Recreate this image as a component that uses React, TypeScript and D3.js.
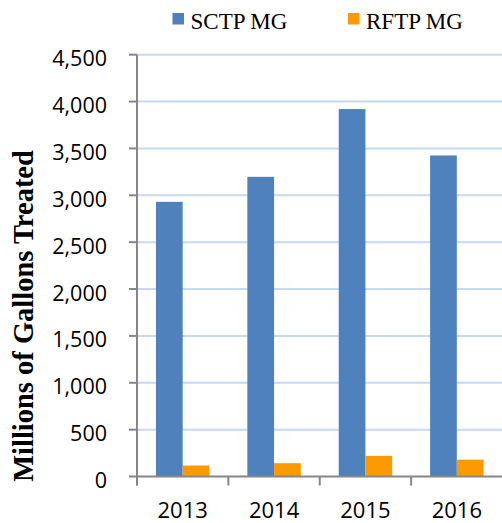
import React from "react";
import * as d3 from "d3";

const years = ["2013", "2014", "2015", "2016"];
const series = ["SCTP MG", "RFTP MG"];
const sctp = [2930, 3197, 3920, 3425];
const rftp = [117, 142, 220, 180];
const yTicks = [0, 500, 1000, 1500, 2000, 2500, 3000, 3500, 4000, 4500];
const colors = ["#4f81bd", "#ff9900"];

const W = 502;
const H = 523;
const left = 137;
const right = 502.5;
const top = 54.7;
const bottom = 476.5;

export default function App() {
  const x = d3.scaleBand<string>().domain(years).range([left, right]).padding(0);
  const inner = d3
    .scaleBand<string>()
    .domain(series)
    .range([0, x.bandwidth()])
    .paddingInner(0)
    .paddingOuter(0.71);
  const y = d3.scaleLinear().domain([0, 4500]).range([bottom, top]);
  const fmt = d3.format(",");
  const values = [sctp, rftp];

  return (
    <svg
      width={W}
      height={H}
      style={{ position: "absolute", left: 0, top: 0 }}
    >
      <rect x={0} y={0} width={W} height={H} fill="#fff" />
      {yTicks
        .filter((t) => t > 0)
        .map((t) => (
          <line
            key={"g" + t}
            x1={left}
            x2={right}
            y1={y(t)}
            y2={y(t)}
            stroke="#c6d9f1"
            strokeWidth={2}
          />
        ))}
      {series.map((s, si) =>
        years.map((yr, i) => (
          <rect
            key={s + yr}
            x={(x(yr) as number) + (inner(s) as number)}
            y={y(values[si][i])}
            width={inner.bandwidth()}
            height={bottom - y(values[si][i])}
            fill={colors[si]}
          />
        ))
      )}
      <line x1={left} x2={left} y1={top} y2={bottom + 9} stroke="#868686" strokeWidth={2} />
      {yTicks.map((t) => (
        <g key={"t" + t}>
          <line x1={left - 8} x2={left} y1={y(t)} y2={y(t)} stroke="#868686" strokeWidth={2} />
          <text
            x={107}
            y={y(t) + 3}
            textAnchor="end"
            dominantBaseline="central"
            fontFamily="'Open Sans', sans-serif"
            fontSize={21.5}
            fill="#000"
          >
            {fmt(t)}
          </text>
        </g>
      ))}
      <line x1={left} x2={right} y1={bottom} y2={bottom} stroke="#868686" strokeWidth={2} />
      {years.map((yr) => (
        <line
          key={"xt" + yr}
          x1={x(yr) as number}
          x2={x(yr) as number}
          y1={bottom}
          y2={bottom + 9}
          stroke="#868686"
          strokeWidth={2}
        />
      ))}
      {years.map((yr) => (
        <text
          key={"xl" + yr}
          x={(x(yr) as number) + x.bandwidth() / 2}
          y={518}
          textAnchor="middle"
          fontFamily="'Open Sans', sans-serif"
          fontSize={22}
          fill="#000"
        >
          {yr}
        </text>
      ))}
      <text
        transform="translate(32.5,316) rotate(-90)"
        textAnchor="middle"
        fontFamily="'Liberation Serif', 'Times New Roman', serif"
        fontWeight="bold"
        fontSize={28.5}
        fill="#000"
      >
        Millions of Gallons Treated
      </text>
      {series.map((s, i) => {
        const lx = [172.5, 348][i];
        return (
          <g key={"lg" + s}>
            <rect x={lx} y={13} width={11.5} height={11.5} fill={colors[i]} />
            <text
              x={lx + 18}
              y={28.5}
              fontFamily="'Liberation Serif', 'Times New Roman', serif"
              fontSize={23}
              fill="#000"
            >
              {s}
            </text>
          </g>
        );
      })}
    </svg>
  );
}
